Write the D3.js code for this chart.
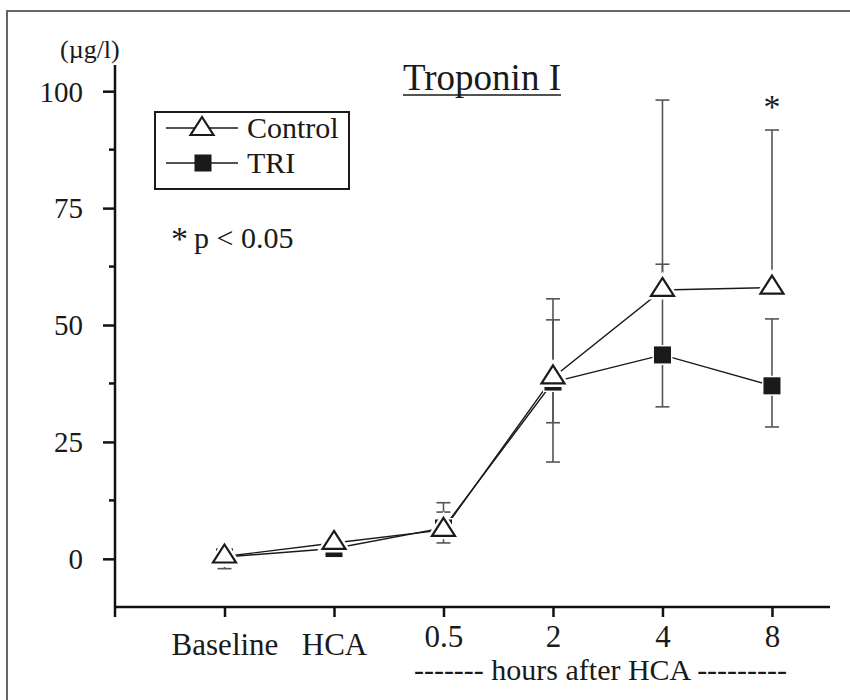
<!DOCTYPE html>
<html>
<head>
<meta charset="utf-8">
<script src="https://cdn.jsdelivr.net/npm/d3@7"></script>
<style>
  body { margin: 0; background: #fff; }
  svg text { fill: #1a1a1a; }
</style>
</head>
<body>
<svg id="chart" width="850" height="700"></svg>
<script>
// data (µg/l)
var categories = ["Baseline", "HCA", "0.5", "2", "4", "8"];
var control   = [0.5, 3.4, 6.2, 38.8, 57.5, 58.0];
var tri       = [0.4, 2.2, 6.6, 37.8, 43.6, 37.0];
var controlHi = [1.8, 4.5, 12.0, 55.6, 98.1, 91.7];
var controlLo = [-2.1, 2.5, 3.4, 20.7, null, null];
var triHi     = [1.2, 3.0, 10.0, 51.1, 63.0, 51.3];
var triLo     = [0.0, 1.5, 5.5, 29.1, 32.5, 28.2];
var yTicks = [0, 25, 50, 75, 100];
var yMinor = [12.5, 37.5, 62.5, 87.5];
var signif = [5]; // index of points marked with *

var serif = '"Liberation Serif", "Times New Roman", serif';
var svg = d3.select("#chart");

// outer frame (runs off the right/bottom edge like the scan)
svg.append("rect")
  .attr("x", 7).attr("y", 11)
  .attr("width", 900).attr("height", 800)
  .style("fill", "none").style("stroke", "#666").style("stroke-width", 2);

// scales
var x = d3.scaleLinear().domain([-1, 5.53]).range([115, 830]);
var y = d3.scaleLinear().domain([-10.3, 105.6]).range([607, 65]);

// y axis
var yAxis = svg.append("g").attr("transform", "translate(" + x(-1) + ",0)");
yAxis.call(d3.axisLeft(y).tickValues(yTicks).tickSize(12).tickSizeOuter(0).tickPadding(20));
yAxis.select(".domain").remove();
yAxis.selectAll(".tick line").style("stroke", "#111").style("stroke-width", 2.5);
yAxis.selectAll(".tick text").style("font-family", serif).style("font-size", "29px").attr("dy", "0.34em");
yAxis.append("g").selectAll("line").data(yMinor).enter().append("line")
  .attr("x1", -6).attr("x2", 0)
  .attr("y1", function(d) { return y(d); }).attr("y2", function(d) { return y(d); })
  .style("stroke", "#111").style("stroke-width", 2.5);
yAxis.append("line")
  .attr("x1", 0).attr("x2", 0)
  .attr("y1", y.range()[1]).attr("y2", y.range()[0] + 10)
  .style("stroke", "#111").style("stroke-width", 2.5);

// x axis
var xAxis = svg.append("g").attr("transform", "translate(0," + y(-10.3) + ")");
xAxis.call(d3.axisBottom(x).tickValues(d3.range(categories.length)).tickSize(10).tickSizeOuter(0)
  .tickFormat(function(i) { return categories[i]; }));
xAxis.select(".domain").remove();
xAxis.append("line")
  .attr("x1", x.range()[0]).attr("x2", x.range()[1])
  .style("stroke", "#111").style("stroke-width", 2.5);
xAxis.selectAll(".tick line").style("stroke", "#111").style("stroke-width", 2.5);
xAxis.selectAll(".tick text")
  .style("font-family", serif)
  .style("font-size", "31px")
  .attr("y", 0).attr("dy", null)
  .attr("transform", function(i) { return "translate(0," + (i < 2 ? 48 : 40) + ")"; });

svg.append("text")
  .attr("x", x(1.73)).attr("y", 680)
  .style("font-family", serif).style("font-size", "30px")
  .text("------- hours after HCA ---------");

// y unit
svg.append("text").attr("x", 60).attr("y", 58)
  .style("font-family", serif).style("font-size", "26px").text("(\u00b5g/l)");

// title
var title = svg.append("text").attr("x", 403).attr("y", 90)
  .style("font-family", serif).style("font-size", "37px").text("Troponin I");
var tw = title.node().getComputedTextLength();
svg.append("line").attr("x1", 403).attr("x2", 403 + tw)
  .attr("y1", 95).attr("y2", 95)
  .style("stroke", "#1a1a1a").style("stroke-width", 1.6);

// lines
var line = d3.line()
  .defined(function(d) { return d != null; })
  .x(function(d, i) { return x(i); })
  .y(function(d) { return y(d); });

[control, tri].forEach(function(s) {
  svg.append("path").attr("d", line(s))
    .style("fill", "none").style("stroke", "#1a1a1a").style("stroke-width", 1.4);
});

// error bars
function errorBars(mean, ends) {
  var g = svg.append("g");
  ends.forEach(function(v, i) {
    if (v == null) return;
    g.append("line").attr("x1", x(i)).attr("x2", x(i))
      .attr("y1", y(mean[i])).attr("y2", y(v))
      .style("stroke", "#555").style("stroke-width", 1.6);
    g.append("line").attr("x1", x(i) - 7).attr("x2", x(i) + 7)
      .attr("y1", y(v)).attr("y2", y(v))
      .style("stroke", "#555").style("stroke-width", 1.6);
  });
}
errorBars(control, controlHi);
errorBars(control, controlLo);
errorBars(tri, triHi);
errorBars(tri, triLo);

// markers
var sq = d3.symbol().type(d3.symbolSquare).size(290);
var trUp = "M0,-11L11.5,7L-11.5,7Z";

function squares(g, data) {
  g.selectAll("path").data(data).enter().append("path")
    .attr("d", sq())
    .attr("transform", function(d, i) { return "translate(" + x(i) + "," + y(d) + ")"; })
    .style("fill", "#1a1a1a").style("stroke", "#fff").style("stroke-width", 3)
    .style("paint-order", "stroke");
}
function triangles(g, data) {
  g.selectAll("path.halo").data(data).enter().append("path").attr("class", "halo")
    .attr("d", trUp)
    .attr("transform", function(d, i) { return "translate(" + x(i) + "," + (y(d) - 1) + ")"; })
    .style("fill", "#fff").style("stroke", "#fff").style("stroke-width", 7);
  g.selectAll("path.mk").data(data).enter().append("path").attr("class", "mk")
    .attr("d", trUp)
    .attr("transform", function(d, i) { return "translate(" + x(i) + "," + (y(d) - 1) + ")"; })
    .style("fill", "#fff").style("stroke", "#1a1a1a").style("stroke-width", 2.2);
}
squares(svg.append("g"), tri);
triangles(svg.append("g"), control);

// significance marks
svg.selectAll("text.star").data(signif).enter().append("text").attr("class", "star")
  .attr("x", function(i) { return x(i); }).attr("y", 118)
  .attr("text-anchor", "middle")
  .style("font-family", serif).style("font-size", "34px").text("*");

// legend
var leg = svg.append("g");
leg.append("rect").attr("x", 155).attr("y", 112).attr("width", 194).attr("height", 77)
  .style("fill", "#fff").style("stroke", "#1a1a1a").style("stroke-width", 2);
[128, 163].forEach(function(ly) {
  leg.append("line").attr("x1", 166).attr("x2", 238).attr("y1", ly).attr("y2", ly)
    .style("stroke", "#1a1a1a").style("stroke-width", 1.4);
});
leg.append("path").attr("d", trUp).attr("transform", "translate(202,128)")
  .style("fill", "#fff").style("stroke", "#1a1a1a").style("stroke-width", 2.2);
leg.append("path").attr("d", sq()).attr("transform", "translate(203,163)")
  .style("fill", "#1a1a1a");
leg.append("text").attr("x", 247).attr("y", 138)
  .style("font-family", serif).style("font-size", "30px").text("Control");
leg.append("text").attr("x", 247).attr("y", 173)
  .style("font-family", serif).style("font-size", "30px").text("TRI");

// p-value note
svg.append("text").attr("x", 171).attr("y", 250)
  .style("font-family", serif).style("font-size", "34px").text("*");
svg.append("text").attr("x", 194).attr("y", 248)
  .style("font-family", serif).style("font-size", "30px").text("p < 0.05");
</script>
</body>
</html>
